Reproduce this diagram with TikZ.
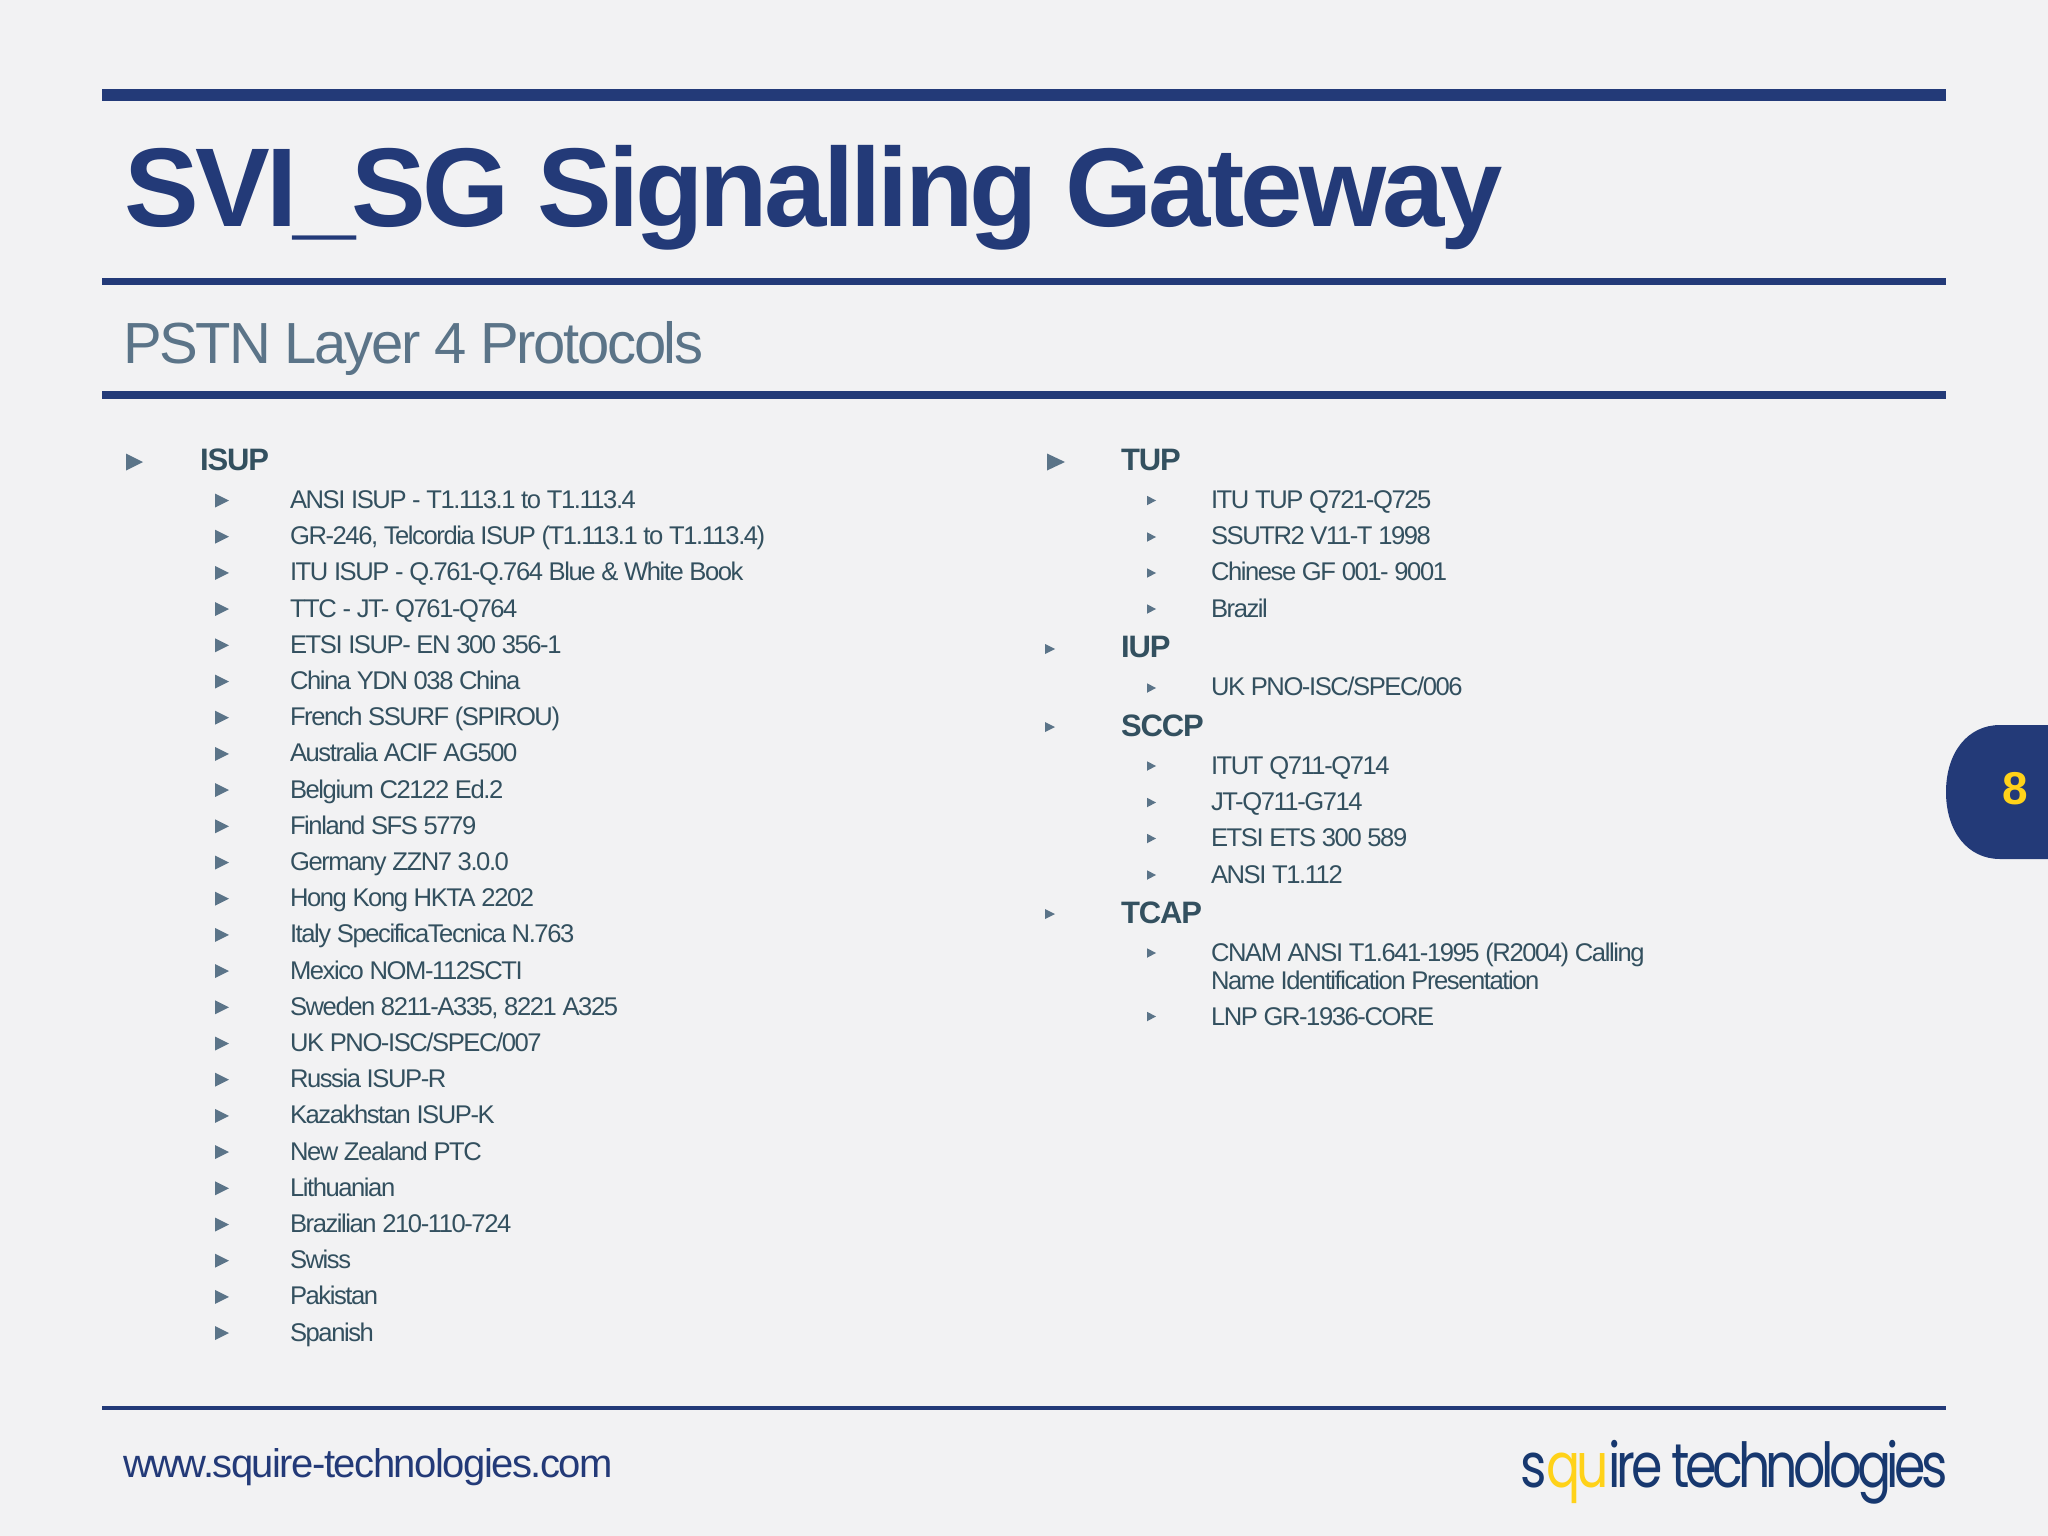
\documentclass[tikz,border=0pt]{standalone}
\usepackage{fontspec}
\setmainfont{Liberation Sans}
\newfontfamily\titlef[LetterSpace=-3.4]{Liberation Sans}
\newfontfamily\subtf[LetterSpace=-4.0]{Liberation Sans}
\newfontfamily\urlf[LetterSpace=-3.8]{Liberation Sans}
\newfontfamily\bodyf[LetterSpace=-5.6]{Liberation Sans}
\newfontfamily\headf[LetterSpace=-3.5]{Liberation Sans}
\newfontfamily\logof[LetterSpace=-9]{Poppins}
\definecolor{navy}{HTML}{233A78}
\definecolor{slate}{HTML}{5B7488}
\definecolor{ink}{HTML}{33505F}
\definecolor{gold}{HTML}{FFD219}
\definecolor{bgc}{HTML}{F2F2F3}
\definecolor{logonavy}{HTML}{17386F}
\newcommand{\tri}[4]{\fill[slate] (#1,#2-#4/2) -- (#1+#3,#2) -- (#1,#2+#4/2) -- cycle;}
\tikzset{
  x=1pt,y=-1pt,
  txt/.style={anchor=base west,inner sep=0pt,outer sep=0pt,text=ink},
  sub/.style={txt,font=\bodyf\fontsize{25.6}{30}\selectfont},
  head/.style={txt,font=\headf\bfseries\fontsize{31}{36}\selectfont},
  rulebar/.style={fill=navy,draw=none},
}
\begin{document}
\begin{tikzpicture}
\useasboundingbox (0,0) rectangle (2048,1536);
\fill[bgc] (0,0) rectangle (2048,1536);
% rules
\fill[rulebar] (102,89) rectangle (1946,101);
\fill[rulebar] (102,278) rectangle (1946,285);
\fill[rulebar] (102,391) rectangle (1946,398.5);
\fill[rulebar] (102,1405.5) rectangle (1946,1410);
% titles
\node[anchor=base west,inner sep=0,text=navy,font=\titlef\fontsize{112}{120}\selectfont\bfseries] (title) at (124,226) {SVI\_SG Signalling Gateway};
\node[anchor=base west,inner sep=0,text=slate,font=\subtf\fontsize{58}{64}\selectfont] (subtitle) at (123,363) {PSTN Layer 4 Protocols};
% left column
\tri{126}{462}{17}{17}
\node[head] (isup) at (200,470.5) {ISUP};
\foreach \t [count=\i] in {
 {ANSI ISUP - T1.113.1 to T1.113.4},
 {GR-246, Telcordia ISUP (T1.113.1 to T1.113.4)},
 {ITU ISUP - Q.761-Q.764 Blue \& White Book},
 {TTC - JT- Q761-Q764},
 {ETSI ISUP- EN 300 356-1},
 {China YDN 038 China},
 {French SSURF (SPIROU)},
 {Australia ACIF AG500},
 {Belgium C2122 Ed.2},
 {Finland SFS 5779},
 {Germany ZZN7 3.0.0},
 {Hong Kong HKTA 2202},
 {Italy SpecificaTecnica N.763},
 {Mexico NOM-112SCTI},
 {Sweden 8211-A335, 8221 A325},
 {UK PNO-ISC/SPEC/007},
 {Russia ISUP-R},
 {Kazakhstan ISUP-K},
 {New Zealand PTC},
 {Lithuanian},
 {Brazilian 210-110-724},
 {Swiss},
 {Pakistan},
 {Spanish}}{
  \pgfmathsetmacro{\yy}{508.5+36.2*(\i-1)}
  \tri{215}{\yy-8}{14}{14}
  \node[sub] (L\i) at (290,\yy) {\t};
}
% right column
\tri{1047}{462}{18}{17}
\node[head] (tup) at (1121,470.5) {TUP};
\tri{1147}{500.5}{9}{9.5}
\node[sub] (r1) at (1211,508.5) {ITU TUP Q721-Q725};
\tri{1147}{537}{9}{9.5}
\node[sub] (r2) at (1211,544.5) {SSUTR2 V11-T 1998};
\tri{1147}{573}{9}{9.5}
\node[sub] (r3) at (1211,580.5) {Chinese GF 001- 9001};
\tri{1147}{609}{9}{9.5}
\node[sub] (r4) at (1211,617) {Brazil};
\tri{1045}{649}{10}{10}
\node[head] (iup) at (1121,657.5) {IUP};
\tri{1147}{688}{9}{9.5}
\node[sub] (r5) at (1211,695.5) {UK PNO-ISC/SPEC/006};
\tri{1045}{727}{10}{10}
\node[head] (sccp) at (1121,736) {SCCP};
\tri{1147}{766}{9}{9.5}
\node[sub] (r6) at (1211,774) {ITUT Q711-Q714};
\tri{1147}{802.5}{9}{9.5}
\node[sub] (r7) at (1211,810) {JT-Q711-G714};
\tri{1147}{838.5}{9}{9.5}
\node[sub] (r8) at (1211,846.5) {ETSI ETS 300 589};
\tri{1147}{875}{9}{9.5}
\node[sub] (r9) at (1211,883) {ANSI T1.112};
\tri{1045}{914}{10}{10}
\node[head] (tcap) at (1121,923) {TCAP};
\tri{1147}{953}{9}{9.5}
\node[sub] (r10) at (1211,961.5) {CNAM ANSI T1.641-1995 (R2004) Calling};
\node[sub] (r11) at (1211,989) {Name Identification Presentation};
\tri{1147}{1016.5}{9}{9.5}
\node[sub] (r12) at (1211,1025) {LNP GR-1936-CORE};
% page tab
\fill[navy] (2048,725) -- (2000,725) .. controls (1968,725) and (1946,752) .. (1946,792) .. controls (1946,832) and (1968,859) .. (2000,859) -- (2048,859) -- cycle;
\node[inner sep=0,text=gold,font=\fontsize{46}{50}\selectfont\bfseries] (pg) at (2015,788.5) {8};
% footer
\node[anchor=base west,inner sep=0,text=navy,font=\urlf\fontsize{40}{44}\selectfont] (url) at (123,1477) {www.squire-technologies.com};
\node[anchor=base east,inner sep=0,text=logonavy,font=\logof\fontsize{62}{66}\selectfont] (logo) at (1948,1487) {\scalebox{0.815}[1]{s{\color{gold}qu}ire technologies}};
\end{tikzpicture}
\end{document}
